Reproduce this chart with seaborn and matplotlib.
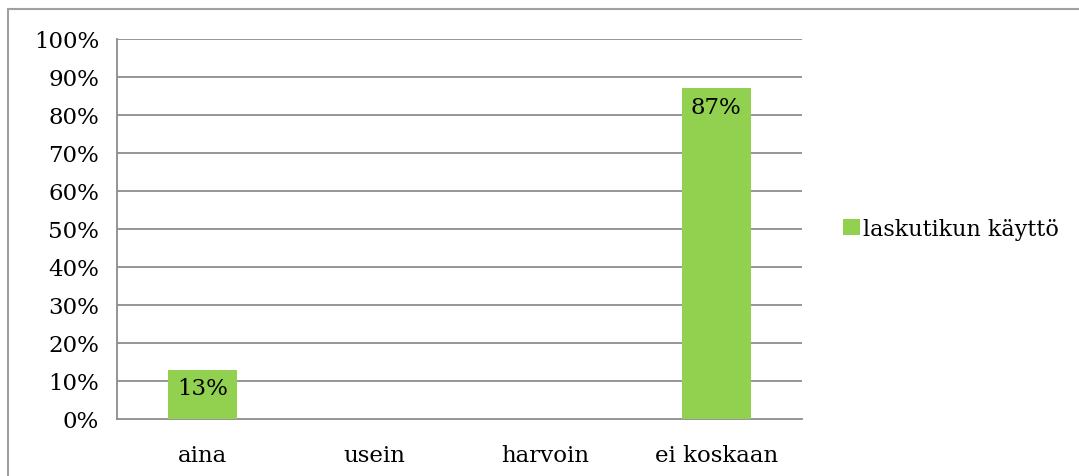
import numpy as np
import pandas as pd
import matplotlib
matplotlib.use("Agg")
import matplotlib.pyplot as plt
import matplotlib.lines as mlines
import seaborn as sns

# --- data ---
categories = ["aina", "usein", "harvoin", "ei koskaan"]
values = [0.13, 0.0, 0.0, 0.87]
series_name = "laskutikun käyttö"
y_ticks = [i / 10 for i in range(11)]

sns.set_style("white")
plt.rcParams['font.family'] = ['DejaVu Serif']
plt.rcParams['font.size'] = 16.5
plt.rcParams['text.color'] = 'black'
plt.rcParams['xtick.color'] = 'black'
plt.rcParams['ytick.color'] = 'black'

GREEN = "#92D050"
GRID = "#8c8c8c"

df = pd.DataFrame({"luokka": categories, "osuus": values, "sarja": series_name})

fig = plt.figure(figsize=(10.79, 4.77), dpi=100)
ax = fig.add_axes([117 / 1079, 1 - 420 / 477, 685 / 1079, 380 / 477])

sns.barplot(data=df, x="luokka", y="osuus", hue="sarja", palette=[GREEN],
            saturation=1, width=0.4, linewidth=0, ax=ax, legend=True, zorder=3)

ax.set_ylim(0, 1)
ax.set_xlim(-0.5, len(categories) - 0.5)
ax.set_yticks(y_ticks)
ax.set_yticklabels([f"{int(round(t * 100))}%" for t in y_ticks])
ax.set_xlabel("")
ax.set_ylabel("")

# gridlines and axes
ax.grid(False)
for t in y_ticks[1:]:
    ax.axhline(t, color=GRID, lw=1.3, zorder=0)
for side in ["top", "right"]:
    ax.spines[side].set_visible(False)
for side in ["left", "bottom"]:
    ax.spines[side].set_color(GRID)
    ax.spines[side].set_linewidth(1.3)

ax.tick_params(axis="y", length=9, width=1.3, color=GRID, labelcolor="black",
               direction="out", pad=4)
ax.tick_params(axis="x", which="major", length=0, pad=18, labelcolor="black")
ax.set_xticks(np.arange(-0.5, len(categories)), minor=True)
ax.tick_params(axis="x", which="minor", length=10, width=1.3, color=GRID, direction="out")

# value labels inside top of bars
for cont in ax.containers:
    labels = [f"{int(round(v * 100))}%" if v > 0 else "" for v in cont.datavalues]
    ax.bar_label(cont, labels=labels, label_type="edge", padding=-21,
                 fontsize=16.5, color="black")

# legend
leg = ax.legend(loc="center left", bbox_to_anchor=(1.06, 0.5), frameon=False,
                handlelength=0.75, handleheight=0.75, handletextpad=0.15,
                borderaxespad=0, borderpad=0, fontsize=16)
for txt in leg.get_texts():
    txt.set_color("black")

# outer chart frame (left and top edges visible)
fx, fy = 7.5 / 1079, 1 - 10 / 477
fig.add_artist(mlines.Line2D([fx, fx], [0, fy], transform=fig.transFigure,
                             color="#a0a0a0", lw=1.5))
fig.add_artist(mlines.Line2D([fx, 1], [fy, fy], transform=fig.transFigure,
                             color="#a0a0a0", lw=1.5))

fig.savefig("out.png", dpi=100)
